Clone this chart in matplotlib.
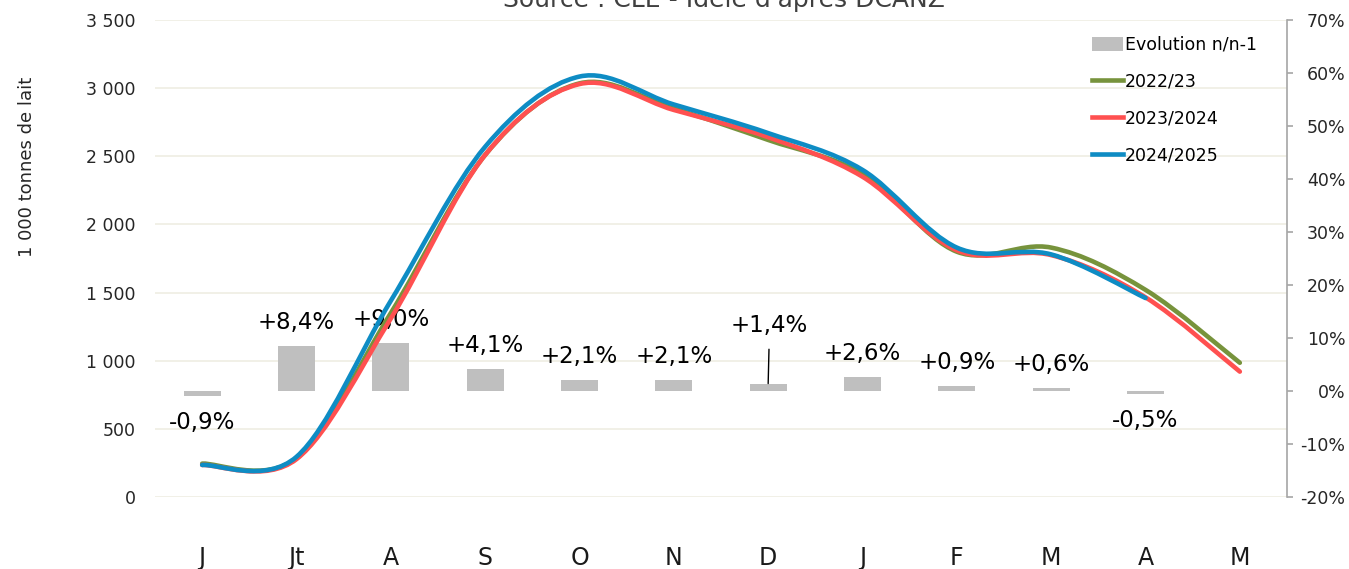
import matplotlib
matplotlib.use("Agg")
import matplotlib.pyplot as plt
import numpy as np
from matplotlib.path import Path
from matplotlib.patches import PathPatch, Patch
from matplotlib.lines import Line2D
from matplotlib.ticker import FuncFormatter, MultipleLocator

plt.rcParams["font.family"] = ["DejaVu Sans"]

# --- data ---
months = ["J", "Jt", "A", "S", "O", "N", "D", "J", "F", "M", "A", "M"]
prod_2022 = [245, 285, 1350, 2510, 3035, 2850, 2620, 2370, 1800, 1830, 1520, 985]
prod_2023 = [235, 278, 1310, 2510, 3030, 2840, 2640, 2350, 1810, 1775, 1465, 920]
prod_2024 = [235, 295, 1440, 2570, 3085, 2880, 2670, 2400, 1830, 1780, 1460]
evolution = [-0.9, 8.4, 9.0, 4.1, 2.1, 2.1, 1.4, 2.6, 0.9, 0.6, -0.5]

series = [
    ("2022/23", prod_2022, "#77933C"),
    ("2023/2024", prod_2023, "#FF5050"),
    ("2024/2025", prod_2024, "#0E8CC4"),
]


def smooth_path(xs, ys):
    """Excel-like smoothed line: Catmull-Rom through the points as Bezier curves."""
    pts = np.column_stack([xs, ys]).astype(float)
    n = len(pts)
    verts = [pts[0]]
    codes = [Path.MOVETO]
    for i in range(n - 1):
        p0 = pts[max(i - 1, 0)]
        p1 = pts[i]
        p2 = pts[i + 1]
        p3 = pts[min(i + 2, n - 1)]
        verts += [p1 + (p2 - p0) / 6, p2 - (p3 - p1) / 6, p2]
        codes += [Path.CURVE4] * 3
    return Path(verts, codes)


fig = plt.figure(figsize=(13.49, 5.69), dpi=100)
rect = [155 / 1349, 1 - 497 / 569, (1287 - 155) / 1349, (497 - 20) / 569]

# base axis: left scale + gridlines
ax = fig.add_axes(rect)
x = np.arange(len(months))
ax.set_xlim(-0.5, len(months) - 0.5)
ax.set_ylim(0, 3500)
ax.yaxis.set_major_locator(MultipleLocator(500))
ax.yaxis.set_major_formatter(FuncFormatter(lambda v, p: f"{int(v):,}".replace(",", " ")))
ax.grid(axis="y", color="#EFEDE3", linewidth=1.2)
ax.set_axisbelow(True)
for s in ax.spines.values():
    s.set_visible(False)
ax.tick_params(axis="y", length=0, pad=14, labelsize=12.5, labelcolor="#262626")
ax.set_xticks(x)
ax.set_xticklabels(months)
ax.tick_params(axis="x", length=0, pad=35, labelsize=17, labelcolor="#1a1a1a")

# bars on the right scale
axb = ax.twinx()
axb.set_ylim(-20, 70)
axb.yaxis.set_major_locator(MultipleLocator(10))
axb.yaxis.set_major_formatter(FuncFormatter(lambda v, p: f"{int(round(v))}%"))
for name in ["top", "left", "bottom"]:
    axb.spines[name].set_visible(False)
axb.spines["right"].set_color("#A6A6A6")
axb.spines["right"].set_linewidth(1.2)
axb.tick_params(axis="y", direction="out", length=4, width=1.2, color="#A6A6A6",
                pad=38, labelsize=12.5, labelcolor="#262626")
for t in axb.get_yticklabels():
    t.set_horizontalalignment("right")
axb.patch.set_visible(False)

xb = x[:len(evolution)]
axb.bar(xb, evolution, 0.39, color="#BFBFBF", zorder=2)

for xi, v in zip(xb, evolution):
    label = f"{v:+.1f}%".replace(".", ",")
    if v >= 0:
        if months[xi] == "D":
            axb.annotate(label, (xi, v), xytext=(1, 42), textcoords="offset points",
                         ha="center", va="center", fontsize=16.5,
                         arrowprops=dict(arrowstyle="-", color="black", lw=1,
                                         shrinkA=7, shrinkB=0))
        else:
            axb.annotate(label, (xi, v), xytext=(0, 17), textcoords="offset points",
                         ha="center", va="center", fontsize=16.5)
    else:
        axb.annotate(label, (xi, v), xytext=(0, -19), textcoords="offset points",
                     ha="center", va="center", fontsize=16.5)

# lines on top, left scale
axl = ax.twinx()
axl.set_ylim(ax.get_ylim())
axl.set_xlim(ax.get_xlim())
axl.axis("off")
for name, vals, color in series:
    patch = PathPatch(smooth_path(x[:len(vals)], vals), fill=False, edgecolor=color,
                      linewidth=3.3, capstyle="round", joinstyle="round")
    axl.add_patch(patch)

ax.set_zorder(1)
axb.set_zorder(2)
axl.set_zorder(3)

handles = [Patch(facecolor="#BFBFBF", edgecolor="none", label="Evolution n/n-1")]
handles += [Line2D([], [], color=c, lw=3.3, label=n) for n, _, c in series]
fig.legend(handles=handles, loc="upper left", bbox_to_anchor=(1085 / 1349, 1 - 29 / 569),
           frameon=False, fontsize=12.5, handlelength=1.8, handleheight=0.8,
           handletextpad=0.1, labelspacing=1.08, borderaxespad=0)

fig.text(27 / 1349, 1 - 167 / 569, "1 000 tonnes de lait", rotation=90,
         ha="center", va="center", fontsize=13, color="#262626")
fig.text(724 / 1349, 1 - 7 / 569, "Source : CLE - Idele d'après DCANZ",
         ha="center", va="baseline", fontsize=18, color="#404040")

fig.savefig("out.png", dpi=100)
